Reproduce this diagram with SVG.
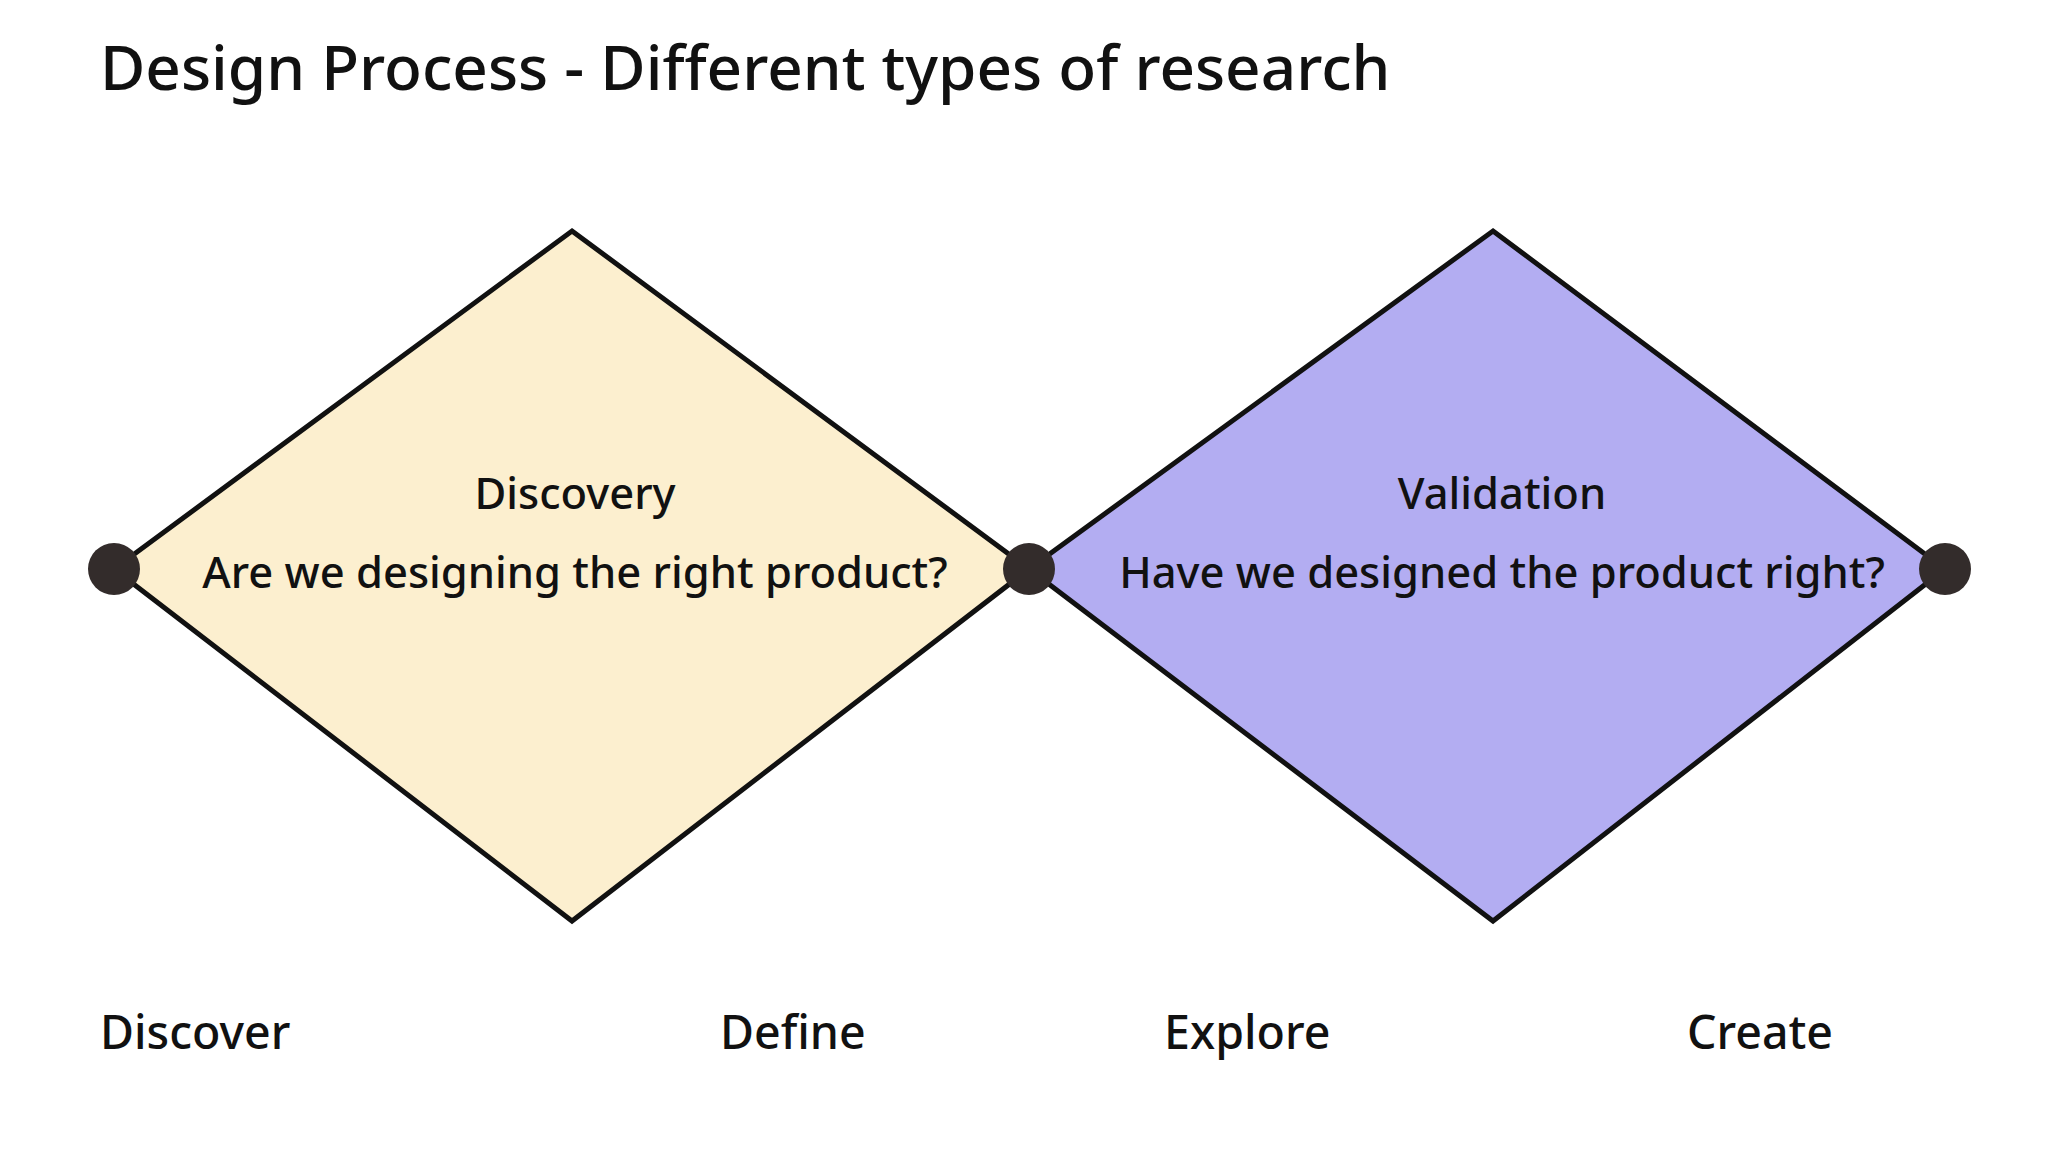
<svg xmlns="http://www.w3.org/2000/svg" width="2048" height="1152" viewBox="0 0 2048 1152">
<style>
text{font-family:"Noto Sans","Liberation Sans",sans-serif;fill:#111;}
.t{font-size:43.5px;text-anchor:middle;font-weight:500}
.b{font-size:46.5px;font-weight:500}
.d{stroke:#111;stroke-width:5;stroke-linejoin:miter}
.dot{fill:#332c2b}
</style>
<rect width="2048" height="1152" fill="#fff"/>
<text x="100" y="90" style="font-size:62px;font-weight:500">Design Process - Different types of research</text>
<g id="discovery">
<polygon class="d" points="572,231 1029,569 572,921 114,569" fill="#fcefcf"/>
<text class="t" x="575" y="509">Discovery</text>
<text class="t" x="575" y="588">Are we designing the right product?</text>
</g>
<g id="validation">
<polygon class="d" points="1493,231 1945,569 1493,921 1029,569" fill="#b3adf2"/>
<text class="t" x="1502" y="509">Validation</text>
<text class="t" x="1502" y="588">Have we designed the product right?</text>
</g>
<g id="connectors">
<circle class="dot" cx="114" cy="569" r="26"/>
<circle class="dot" cx="1029" cy="569" r="26"/>
<circle class="dot" cx="1945" cy="569" r="26"/>
</g>
<g id="labels">
<text class="b" x="100" y="1049">Discover</text>
<text class="b" x="720" y="1049">Define</text>
<text class="b" x="1164" y="1049">Explore</text>
<text class="b" x="1687" y="1049">Create</text>
</g>
</svg>
